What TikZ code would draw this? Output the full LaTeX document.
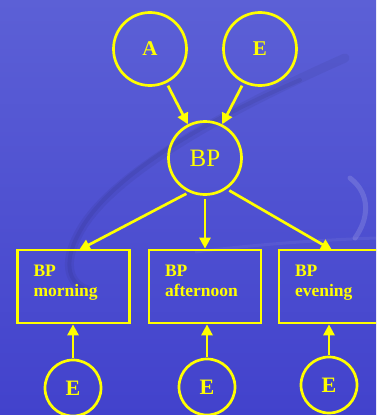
\documentclass[tikz,border=0pt]{standalone}
\usepackage{fontspec}
\setmainfont{Liberation Serif}
\usetikzlibrary{arrows.meta}
\definecolor{ylw}{RGB}{255,255,0}
\definecolor{bgtop}{RGB}{92,96,214}
\definecolor{bgbot}{RGB}{66,66,204}
\begin{document}
\begin{tikzpicture}[x=1pt,y=-1pt,
  every node/.style={text=ylw},
  var/.style={circle,draw=ylw,line width=2.7pt,inner sep=0pt},
  bigvar/.style={var,minimum size=73pt,font=\fontsize{21}{24}\selectfont\bfseries},
  errvar/.style={var,minimum size=56pt,font=\fontsize{22}{24}\selectfont\bfseries},
  obsbox/.style={rectangle,draw=ylw,line width=2.7pt,minimum width=112pt,minimum height=73pt,
    inner xsep=16pt,inner ysep=0pt,text width=80pt,align=left,
    font=\fontsize{17.5}{20}\selectfont\bfseries},
  link/.style={draw=ylw,line width=2.7pt,-{Triangle[length=11pt,width=11pt]}}
]
\useasboundingbox (0,0) rectangle (376,415);
\clip (0,0) rectangle (376,415);
\shade[top color=bgtop,bottom color=bgbot] (0,0) rectangle (376,415);
% decorative swoosh
\draw[black,opacity=0.05,line width=9pt,line cap=round]
  (345,58) .. controls (250,100) and (110,170) .. (78,235)
  .. controls (62,265) and (70,285) .. (88,290);
\draw[black,opacity=0.06,line width=4pt,line cap=round]
  (300,80) .. controls (230,110) and (110,170) .. (78,235)
  .. controls (62,265) and (70,285) .. (88,290);
\draw[white,opacity=0.14,line width=5pt,line cap=round]
  (350,178) .. controls (372,195) and (368,220) .. (355,238);
\draw[white,opacity=0.06,line width=3pt]
  (195,252) .. controls (260,244) and (320,240) .. (376,238);

\node[bigvar] (A) at (150,49) {A};
\node[bigvar] (Et) at (260,49) {E};
\node[var,minimum size=73pt,font=\fontsize{25}{28}\selectfont] (BP) at (205,158) {BP};

\node[obsbox] (m) at (73.5,286.5) {BP\\morning\rule[-11pt]{0pt}{0pt}};
\node[obsbox] (a) at (205,286.5) {BP\\afternoon\rule[-11pt]{0pt}{0pt}};
\node[obsbox] (e) at (335,286.5) {BP\\evening\rule[-11pt]{0pt}{0pt}};

\node[errvar] (e1) at (73,388) {E};
\node[errvar] (e2) at (207,387) {E};
\node[errvar] (e3) at (329,385) {E};

\draw[link,shorten <=3pt] (A.-64) -- (BP.117);
\draw[link,shorten <=3pt] (Et.-116) -- (BP.63);
\draw[link,shorten <=3pt] (BP.-115) -- (79,250);
\draw[link,shorten <=3pt] (BP.south) -- (a.north);
\draw[link,shorten <=3pt] (BP.-55) -- (332,250);
\draw[link,shorten <=1pt] (e1.north) -- (e1.north |- m.south);
\draw[link,shorten <=1pt] (e2.north) -- (e2.north |- a.south);
\draw[link,shorten <=1pt] (e3.north) -- (e3.north |- e.south);
\end{tikzpicture}
\end{document}
